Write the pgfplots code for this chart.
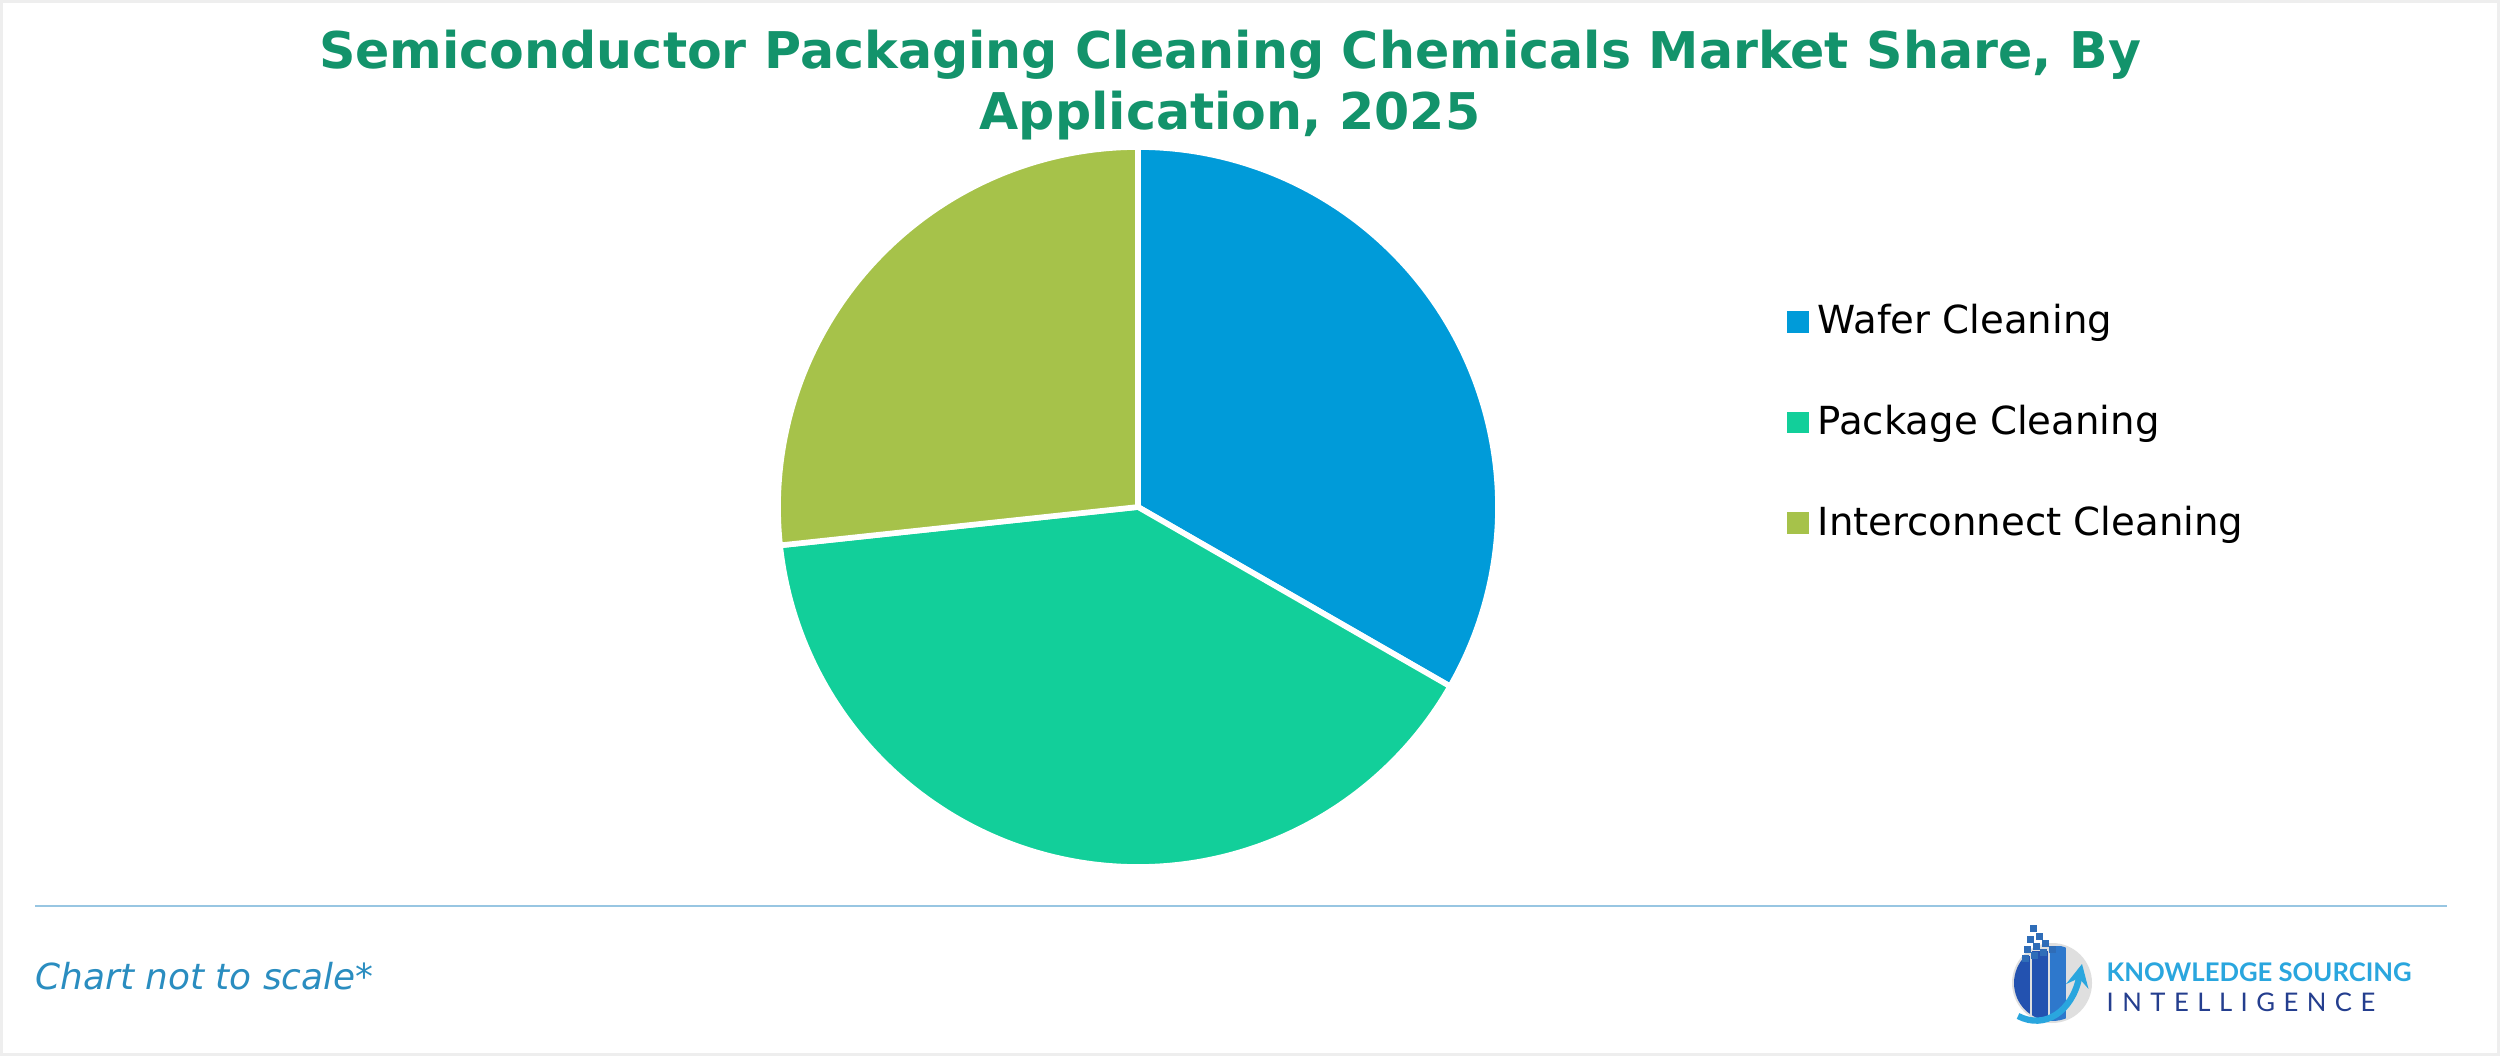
\documentclass[border=0pt]{standalone}
\usepackage{pgfplots}
\pgfplotsset{compat=1.18}
\usepackage{pgfplotstable}
\usepackage{fontspec}
\setmainfont{DejaVu Sans}
\newfontfamily\logofont{Lato}
\definecolor{titlegreen}{HTML}{13936B}
\definecolor{wafer}{HTML}{009BD9}
\definecolor{package}{HTML}{12CF9A}
\definecolor{inter}{HTML}{A6C24A}
\definecolor{notecol}{HTML}{2A8DC0}
\definecolor{linecol}{HTML}{98C6E2}
\definecolor{logoblue}{HTML}{2AA6DE}
\definecolor{logonavy}{HTML}{243E8E}
\definecolor{logobar}{HTML}{2352B0}
\definecolor{logobar2}{HTML}{2E78CC}
\definecolor{logosq}{HTML}{2F6DB8}
\definecolor{framecol}{HTML}{EEEEEE}

\pgfplotstableread{
label share
Wafer 33.3
Package 40.0
Interconnect 26.7
}\sharetable

\begin{document}
\begin{tikzpicture}
\pgfplotstablegetelem{0}{share}\of\sharetable \let\sA\pgfplotsretval
\pgfplotstablegetelem{1}{share}\of\sharetable \let\sB\pgfplotsretval
\pgfplotstablegetelem{2}{share}\of\sharetable \let\sC\pgfplotsretval
\pgfmathsetmacro\aEnd{90-3.6*\sA}
\pgfmathsetmacro\bEnd{\aEnd-3.6*\sB}
\pgfmathsetmacro\cEnd{\bEnd-3.6*\sC}

\fill[framecol] (0,0) rectangle (25,10.56);
\fill[white] (0.03,0.03) rectangle (24.97,10.53);

\node[align=center, font=\bfseries\fontsize{14.4}{17.3}\selectfont, text=titlegreen] at (12.3,9.71)
  {Semiconductor Packaging Cleaning Chemicals Market Share, By\\Application, 2025};

\begin{axis}[at={(11.38cm,5.49cm)}, anchor=center, scale only axis,
  width=7.2cm, height=7.2cm, xmin=-1, xmax=1, ymin=-1, ymax=1,
  hide axis, clip=false,
  legend style={at={(1.386,0.6174)}, anchor=west, draw=none, fill=none,
    font=\fontsize{11}{13}\selectfont, row sep=14.8pt,
    nodes={inner ysep=2pt, inner xsep=2.5pt}},
  legend cell align=left]
\addplot[fill=wafer, draw=white, line width=1.6pt, domain=\aEnd:90, samples=120,
  legend image code/.code={\fill[wafer] (0cm,-0.08cm) rectangle (0.16cm,0.08cm);}]
  ({cos(x)},{sin(x)}) -- (axis cs:0,0) -- cycle;
\addlegendentry{Wafer Cleaning}
\addplot[fill=package, draw=white, line width=1.6pt, domain=\bEnd:\aEnd, samples=140,
  legend image code/.code={\fill[package] (0cm,-0.08cm) rectangle (0.16cm,0.08cm);}]
  ({cos(x)},{sin(x)}) -- (axis cs:0,0) -- cycle;
\addlegendentry{Package Cleaning}
\addplot[fill=inter, draw=white, line width=1.6pt, domain=\cEnd:\bEnd, samples=100,
  legend image code/.code={\fill[inter] (0cm,-0.08cm) rectangle (0.16cm,0.08cm);}]
  ({cos(x)},{sin(x)}) -- (axis cs:0,0) -- cycle;
\addlegendentry{Interconnect Cleaning}
\end{axis}

\draw[linecol, line width=0.75pt] (0.35,1.50) -- (24.47,1.50);
\node[anchor=west, inner sep=0pt, text=notecol, font=\itshape\fontsize{10.2}{12}\selectfont] at (0.35,0.80) {Chart not to scale*};

% logo
\fill[gray!25] (20.52,0.73) circle (0.40);
\begin{scope}
\clip (20.52,0.73) circle (0.38);
\fill[logobar] (20.14,0.30) rectangle (20.30,1.00);
\fill[logobar] (20.32,0.30) rectangle (20.48,1.05);
\fill[logobar2] (20.50,0.30) rectangle (20.66,1.10);
\end{scope}
\draw[logoblue, line width=1.8pt, -stealth] (20.18,0.40) .. controls (20.45,0.26) and (20.72,0.45) .. (20.82,0.92);
\foreach \x/\y in {20.25/0.98,20.34/1.01,20.43/1.04,20.52/1.07,20.27/1.07,20.36/1.10,20.45/1.13,20.30/1.17,20.39/1.20,20.33/1.28}
  \fill[logosq] (\x-0.035,\y-0.035) rectangle (\x+0.035,\y+0.035);
\node[anchor=west, inner sep=0pt, text=logoblue, font=\logofont\bfseries\fontsize{7.3}{8}\selectfont] at (21.06,0.84) {KNOWLEDGE SOURCING};
\node[anchor=west, inner sep=0pt, text=logonavy, font=\logofont\fontsize{7.3}{8}\selectfont] at (21.06,0.54) {I\hspace{0.33em}N\hspace{0.33em}T\hspace{0.33em}E\hspace{0.33em}L\hspace{0.33em}L\hspace{0.33em}I\hspace{0.33em}G\hspace{0.33em}E\hspace{0.33em}N\hspace{0.33em}C\hspace{0.33em}E};
\end{tikzpicture}
\end{document}
